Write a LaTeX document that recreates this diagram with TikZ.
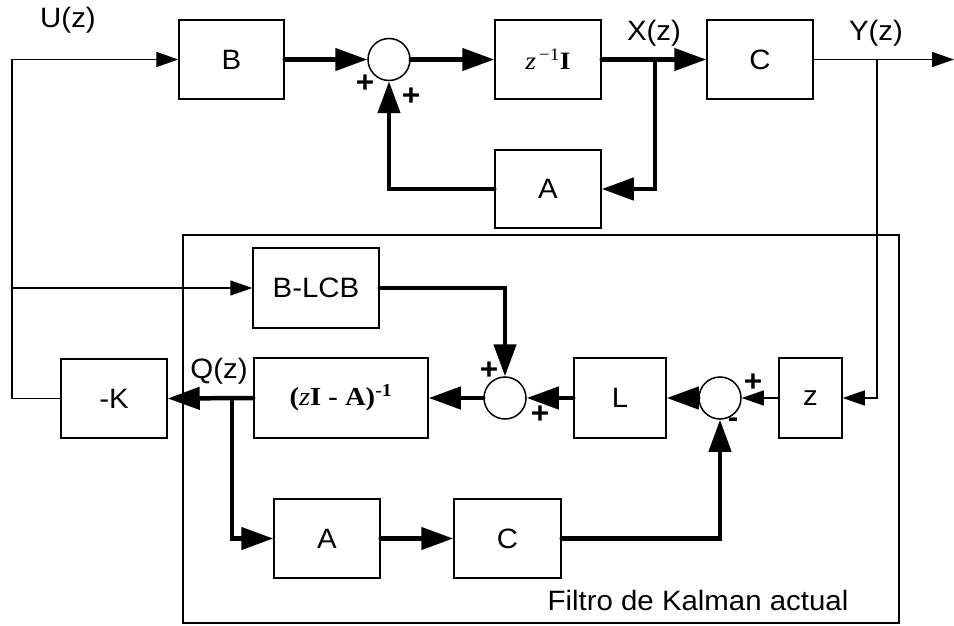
\documentclass[tikz,border=0pt]{standalone}
\usepackage{fontspec}
\usetikzlibrary{arrows.meta}
\newfontfamily\labfont[FakeStretch=1.05]{Liberation Sans}
\newfontfamily\serfont[FakeStretch=1.1]{Liberation Serif}
\tikzset{
  lab/.style={font=\labfont\fontsize{28}{32}\selectfont, inner sep=0pt},
  blk/.style={draw, line width=1.5pt, rectangle, inner sep=0pt, font=\labfont\fontsize{28}{32}\selectfont},
  sumc/.style={draw, line width=1.5pt, circle, minimum size=42pt, inner sep=0pt},
  thinln/.style={line width=1.5pt, -{Triangle[length=22pt,width=15pt]}},
  thickln/.style={line width=4.5pt, line cap=round, -{Triangle[length=32pt,width=22pt]}},
  sgn/.style={font=\labfont\bfseries\fontsize{30}{32}\selectfont, inner sep=0pt},
}
\begin{document}
\begin{tikzpicture}[x=1pt,y=-1pt]
\useasboundingbox (0,0) rectangle (954,626);
% top loop
\node[blk, minimum width=105pt, minimum height=79pt] (B) at (231.5,59.5) {B};
\node[sumc] (s1) at (389,59.5) {};
\node[blk, minimum width=106pt, minimum height=79pt, font=\serfont\fontsize{25}{28}\selectfont] (zinv) at (548,59.5) {{\itshape z}\textsuperscript{\,−1}\textbf{I}};
\node[blk, minimum width=106pt, minimum height=79pt] (C) at (760,59.5) {C};
\node[blk, minimum width=106pt, minimum height=78pt] (A) at (548,189) {A};
% Kalman filter
\node[draw, line width=1.5pt, minimum width=716pt, minimum height=388pt, inner sep=0pt] (kal) at (541,429) {};
\node[blk, minimum width=126pt, minimum height=80pt] (BL) at (316,288) {B-LCB};
\node[blk, minimum width=174pt, minimum height=80pt, font=\serfont\bfseries\fontsize{26}{30}\selectfont] (inv) at (341,398) {({\mdseries\itshape z}I - A)\textsuperscript{-1}};
\node[sumc] (s2) at (505,398) {};
\node[blk, minimum width=92pt, minimum height=80pt] (L) at (620,398) {L};
\node[sumc] (s3) at (720,398) {};
\node[blk, minimum width=63pt, minimum height=80pt] (zb) at (810.5,398) {z};
\node[blk, minimum width=106pt, minimum height=79pt] (K) at (114,398.5) {-K};
\node[blk, minimum width=106pt, minimum height=79pt] (A2) at (327,538.5) {A};
\node[blk, minimum width=107pt, minimum height=79pt] (C2) at (507.5,538.5) {C};
% labels
\node[lab] (lu) at (68,20) {U(z)};
\node[lab] (lx) at (654,33) {X(z)};
\node[lab] (ly) at (876,33) {Y(z)};
\node[lab] (lq) at (219,371) {Q(z)};
\node[lab] (lk) at (698,600) {Filtro de Kalman actual};
\node[sgn] (p1) at (365,84) {+};
\node[sgn] (p2) at (411,97) {+};
\node[sgn] (p3) at (489,371) {+};
\node[sgn] (p4) at (540,415) {+};
\node[sgn] (p5) at (753,383) {+};
\node[sgn] (m1) at (733,423) {-};
% coordinates
\coordinate (u0) at (12,59.5);
\coordinate (uB) at (12,288);
\coordinate (out) at (954,59.5);
\coordinate (yb) at (877,59.5);
\coordinate (xb) at (655,59.5);
\coordinate (qb) at (232,398);
% thin connectors
\draw[thinln] (K.west) -| (u0) -- (B.west);
\draw[thinln] (uB) -- (BL.west);
\draw[thinln] (C.east) -- (out);
\draw[thinln] (yb) |- (zb.east);
\draw[thinln] (zb.west) -- (s3.east);
% thick connectors
\draw[thickln] (B.east) -- (s1.west);
\draw[thickln] (s1.east) -- (zinv.west);
\draw[thickln] (zinv.east) -- (C.west);
\draw[thickln, line cap=butt] (xb) |- (A.east);
\draw[thickln] (A.west) -| (s1.south);
\draw[thickln] (BL.east) -| (s2.north);
\draw[thickln] (s2.west) -- (inv.east);
\draw[thickln] (L.west) -- (s2.east);
\draw[thickln] (s3.west) -- (L.east);
\draw[thickln] (inv.west) -- (K.east);
\draw[thickln, line cap=butt] (qb) |- (A2.west);
\draw[thickln] (A2.east) -- (C2.west);
\draw[thickln] (C2.east) -| (s3.south);
\end{tikzpicture}
\end{document}
